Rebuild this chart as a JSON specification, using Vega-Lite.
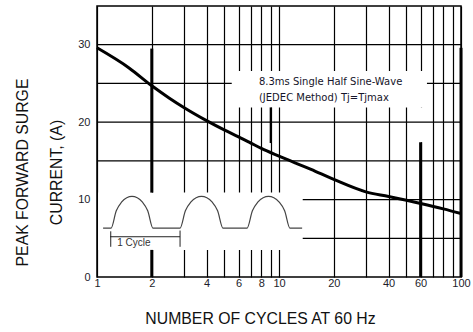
{
  "$schema": "https://vega.github.io/schema/vega-lite/v6.json",
  "width": 364,
  "height": 271,
  "autosize": {"type": "none"},
  "padding": {"left": 97, "top": 6, "right": 12, "bottom": 55},
  "background": "white",
  "config": {
    "font": "Liberation Sans",
    "view": {"stroke": "#000", "strokeWidth": 1.5},
    "axis": {
      "labelFont": "Liberation Sans",
      "titleFont": "Liberation Sans",
      "labelColor": "#1c1c2a",
      "titleColor": "#111",
      "labelFontSize": 11,
      "titleFontSize": 15.8,
      "titleFontWeight": "normal",
      "gridColor": "#000",
      "gridOpacity": 1,
      "gridWidth": 1.2,
      "ticks": false,
      "domain": false,
      "labelFlush": false,
      "labelOverlap": false
    }
  },
  "datasets": {
    "hgrid": [
      {"x": 13.5, "x2": 100, "y": 5},
      {"x": 13.5, "x2": 100, "y": 10},
      {"x": 1, "x2": 100, "y": 15},
      {"x": 1, "x2": 100, "y": 20},
      {"x": 1, "x2": 5.5, "y": 25},
      {"x": 65, "x2": 100, "y": 25},
      {"x": 1, "x2": 100, "y": 30}
    ],
    "curve": [
      {"x": 1, "y": 29.6}, {"x": 1.5, "y": 27.0}, {"x": 2, "y": 24.7}, {"x": 2.5, "y": 23.1},
      {"x": 3, "y": 21.9}, {"x": 4, "y": 20.2}, {"x": 5, "y": 19.0}, {"x": 6, "y": 18.1},
      {"x": 7, "y": 17.3}, {"x": 8, "y": 16.6}, {"x": 10, "y": 15.6}, {"x": 15, "y": 13.9},
      {"x": 20, "y": 12.6}, {"x": 30, "y": 11.0}, {"x": 40, "y": 10.4}, {"x": 60, "y": 9.5},
      {"x": 80, "y": 8.8}, {"x": 100, "y": 8.2}
    ],
    "wave": [
      {"x": 1.08, "y": 6.3}, {"x": 1.194, "y": 6.3}, {"x": 1.276, "y": 8.56}, {"x": 1.363, "y": 9.66},
      {"x": 1.457, "y": 10.24}, {"x": 1.557, "y": 10.4}, {"x": 1.664, "y": 10.24}, {"x": 1.778, "y": 9.66},
      {"x": 1.9, "y": 8.56}, {"x": 2.031, "y": 6.3}, {"x": 2.858, "y": 6.3}, {"x": 3.059, "y": 8.56},
      {"x": 3.274, "y": 9.66}, {"x": 3.504, "y": 10.24}, {"x": 3.751, "y": 10.4}, {"x": 4.015, "y": 10.24},
      {"x": 4.298, "y": 9.66}, {"x": 4.6, "y": 8.56}, {"x": 4.924, "y": 6.3}, {"x": 6.672, "y": 6.3},
      {"x": 7.142, "y": 8.56}, {"x": 7.644, "y": 9.66}, {"x": 8.182, "y": 10.24}, {"x": 8.758, "y": 10.4},
      {"x": 9.373, "y": 10.24}, {"x": 10.03, "y": 9.66}, {"x": 10.74, "y": 8.56}, {"x": 11.49, "y": 6.3},
      {"x": 13.4, "y": 6.3}
    ],
    "blank": [
      {"x": 5.5, "x2": 65, "y": 21.9, "y2": 26.6},
      {"x": 57, "x2": 63, "y": 17.4, "y2": 21.9},
      {"x": 1.015, "x2": 13.5, "y": 3.5, "y2": 10.9}
    ],
    "thick": [
      {"x": 2, "x2": 2, "y": 0, "y2": 3.5, "w": 3},
      {"x": 2, "x2": 2, "y": 10.9, "y2": 29.5, "w": 3},
      {"x": 60, "x2": 60, "y": 0, "y2": 17.4, "w": 3},
      {"x": 100, "x2": 100, "y": 0, "y2": 29.6, "w": 3},
      {"x": 9, "x2": 9, "y": 17.3, "y2": 21.9, "w": 2}
    ],
    "arrow": [
      {"x": 1.18, "x2": 2.86, "y": 5.2, "y2": 5.2},
      {"x": 1.19, "x2": 1.19, "y": 3.9, "y2": 5.9},
      {"x": 2.86, "x2": 2.86, "y": 3.9, "y2": 6.0}
    ],
    "notes": [
      {"x": 7.76, "y": 25.2, "t": "8.3ms Single Half Sine-Wave"},
      {"x": 7.76, "y": 23.1, "t": "(JEDEC Method)  Tj=Tjmax"}
    ],
    "cyc": [
      {"x": 1.29, "y": 4.4, "t": "1 Cycle"}
    ]
  },
  "layer": [
    {
      "data": {"name": "blank"},
      "mark": {"type": "rect", "fill": "white", "stroke": null},
      "encoding": {
        "x": {
          "field": "x", "type": "quantitative",
          "scale": {"type": "log", "domain": [1, 100]},
          "axis": {
            "values": [1, 2, 3, 4, 5, 6, 7, 8, 9, 10, 20, 30, 40, 50, 60, 70, 80, 90, 100],
            "format": "d",
            "labelExpr": "indexof([1,2,4,6,8,10,20,40,60,100], datum.value) >= 0 ? datum.label : ''",
            "labelPadding": 0,
            "title": "NUMBER OF CYCLES AT 60 Hz",
            "titleX": 163,
            "titleY": 46,
            "titleBaseline": "alphabetic",
            "titleAlign": "center"
          }
        },
        "x2": {"field": "x2"},
        "y": {
          "field": "y", "type": "quantitative",
          "scale": {"domain": [0, 35]},
          "axis": {
            "values": [0, 10, 20, 30],
            "grid": false,
            "labelPadding": 7,
            "title": ["PEAK FORWARD SURGE", "CURRENT, (A)"],
            "titleAngle": -90,
            "titleX": -75,
            "titleY": 166,
            "titleAlign": "center",
            "titleBaseline": "middle",
            "titleLineHeight": 34
          }
        },
        "y2": {"field": "y2"}
      }
    },
    {
      "data": {"name": "hgrid"},
      "mark": {"type": "rule", "color": "#000", "strokeWidth": 1.2},
      "encoding": {
        "x": {"field": "x", "type": "quantitative"},
        "x2": {"field": "x2"},
        "y": {"field": "y", "type": "quantitative"}
      }
    },
    {
      "data": {"name": "thick"},
      "mark": {"type": "rule", "color": "#000"},
      "encoding": {
        "x": {"field": "x", "type": "quantitative"},
        "x2": {"field": "x2"},
        "y": {"field": "y", "type": "quantitative"},
        "y2": {"field": "y2"},
        "strokeWidth": {"field": "w", "type": "quantitative", "scale": null}
      }
    },
    {
      "data": {"name": "curve"},
      "mark": {"type": "line", "color": "#000", "strokeWidth": 3, "interpolate": "monotone"},
      "encoding": {
        "x": {"field": "x", "type": "quantitative"},
        "y": {"field": "y", "type": "quantitative"}
      }
    },
    {
      "data": {"name": "wave"},
      "mark": {"type": "line", "color": "#444", "strokeWidth": 1.2, "interpolate": "monotone"},
      "encoding": {
        "x": {"field": "x", "type": "quantitative"},
        "y": {"field": "y", "type": "quantitative"}
      }
    },
    {
      "data": {"name": "arrow"},
      "mark": {"type": "rule", "color": "#222", "strokeWidth": 1},
      "encoding": {
        "x": {"field": "x", "type": "quantitative"},
        "x2": {"field": "x2"},
        "y": {"field": "y", "type": "quantitative"},
        "y2": {"field": "y2"}
      }
    },
    {
      "data": {"name": "notes"},
      "mark": {"type": "text", "align": "left", "baseline": "middle", "font": "DejaVu Sans", "fontSize": 10, "color": "#15152a"},
      "encoding": {
        "x": {"field": "x", "type": "quantitative"},
        "y": {"field": "y", "type": "quantitative"},
        "text": {"field": "t"}
      }
    },
    {
      "data": {"name": "cyc"},
      "mark": {"type": "text", "align": "left", "baseline": "middle", "fontSize": 10, "color": "#333"},
      "encoding": {
        "x": {"field": "x", "type": "quantitative"},
        "y": {"field": "y", "type": "quantitative"},
        "text": {"field": "t"}
      }
    }
  ]
}
